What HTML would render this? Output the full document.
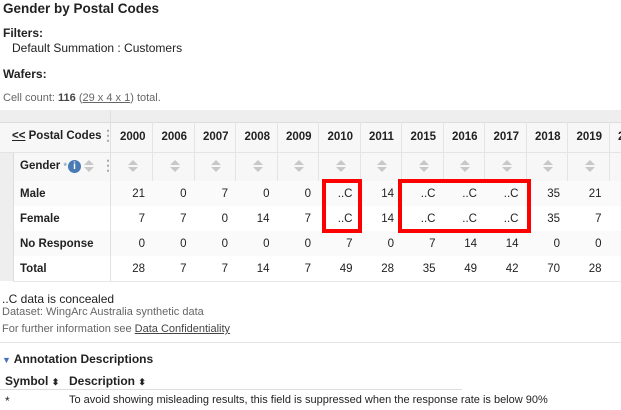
<!DOCTYPE html>
<html><head><style>
body{margin:0;width:621px;height:410px;overflow:hidden;background:#fff;font-family:"Liberation Sans",Arial,sans-serif;font-size:12px;color:#222;position:relative}
.a{position:absolute;white-space:nowrap}
.c{position:absolute;width:34px;text-align:right}
.b{font-weight:bold}
.t{font-size:11.5px}
.sort{position:absolute;width:0;height:0;border-left:5px solid transparent;border-right:5px solid transparent}
</style></head><body>
<div class="a b" style="left:3px;top:1px;font-size:13.5px">Gender by Postal Codes</div>
<div class="a b" style="left:3px;top:26px">Filters:</div>
<div class="a" style="left:12px;top:41px">Default Summation : Customers</div>
<div class="a b" style="left:3px;top:67px">Wafers:</div>
<div class="a" style="left:3px;top:92px;font-size:11px;color:#666">Cell count: <b style="color:#444">116</b> (<u>29 x 4 x 1</u>) total.</div>

<div class="a" style="left:0;top:110px;width:621px;height:12px;background:#eeeeee;border-bottom:1px solid #ddd"></div>
<div class="a" style="left:0;top:123px;width:621px;height:29px;background:#f7f7f7;border-bottom:1px solid #e4e4e4"></div>
<div class="a" style="left:0;top:153px;width:621px;height:28px;background:#f7f7f7;border-bottom:1px solid #e4e4e4"></div>
<div class="a" style="left:0;top:181px;width:621px;height:25px;background:#fafafa;border-bottom:1px solid #e8e8e8"></div>
<div class="a" style="left:0;top:206px;width:621px;height:25px;background:#fff;border-bottom:1px solid #e8e8e8"></div>
<div class="a" style="left:0;top:231px;width:621px;height:25px;background:#fafafa;border-bottom:1px solid #e8e8e8"></div>
<div class="a" style="left:13px;top:256px;width:608px;height:25px;background:#fff;border-bottom:1px solid #e8e8e8"></div>
<div class="a" style="left:0;top:153px;width:13px;height:128px;background:#eee;border-right:1px solid #ddd"></div>
<div class="a" style="left:110px;top:110px;width:1px;height:171px;background:#e0e0e0"></div>

<div class="a b t" style="left:12px;top:130px"><u>&lt;&lt;</u> Postal Codes</div>
<div class="a b" style="left:101px;top:127px;color:#aaa;font-size:14px">⋮</div>
<div class="a b t" style="left:20px;top:160px">Gender <span style="color:#8ac;font-size:9px">*</span></div>
<div class="a" style="left:68px;top:160px;width:13px;height:13px;border-radius:50%;background:#4a7ab5;color:#fff;font-size:10px;font-weight:bold;text-align:center;line-height:13px">i</div>
<div class="a b" style="left:101px;top:157px;color:#aaa;font-size:14px">⋮</div>

<div class="a b t" style="left:20px;top:188px">Male</div>
<div class="a b t" style="left:20px;top:213px">Female</div>
<div class="a b t" style="left:20px;top:238px">No Response</div>
<div class="a b t" style="left:20px;top:263px">Total</div>

<div id="cols"></div>
<script>
var years=["2000","2006","2007","2008","2009","2010","2011","2015","2016","2017","2018","2019","20"];
var data=[["21","0","7","0","0","..C","14","..C","..C","..C","35","21",""],
["7","7","0","14","7","..C","14","..C","..C","..C","35","7",""],
["0","0","0","0","0","7","0","7","14","14","0","0",""],
["28","7","7","14","7","49","28","35","49","42","70","28",""]];
var h="",tops=[188,213,238,263];
for(var i=0;i<13;i++){var x=111+i*41.5;
h+='<div class="a" style="left:'+(x+41)+'px;top:122px;width:1px;height:59px;background:#e4e4e4"></div>';
h+='<div class="a b t" style="left:'+(x+9)+'px;top:131px">'+years[i]+'</div>';
h+='<div class="sort" style="left:'+(x+17)+'px;top:160px;border-bottom:5px solid #c8c8c8"></div>';
h+='<div class="sort" style="left:'+(x+17)+'px;top:167px;border-top:5px solid #c8c8c8"></div>';
for(var r=0;r<4;r++)h+='<div class="c t" style="left:'+x+'px;top:'+tops[r]+'px">'+data[r][i]+'</div>';}
h+='<div class="sort" style="left:84px;top:160px;border-bottom:5px solid #c8c8c8"></div><div class="sort" style="left:84px;top:167px;border-top:5px solid #c8c8c8"></div>';
document.getElementById("cols").innerHTML=h;
</script>

<div class="a" style="left:322px;top:179px;width:32px;height:46px;border:4px solid #f00"></div>
<div class="a" style="left:398px;top:179px;width:125px;height:46px;border:4px solid #f00"></div>

<div class="a" style="left:2px;top:292px">..C data is concealed</div>
<div class="a" style="left:2px;top:306px;color:#666;font-size:11px">Dataset: WingArc Australia synthetic data</div>
<div class="a" style="left:2px;top:323px;color:#666;font-size:11px">For further information see <u style="color:#444">Data Confidentiality</u></div>
<div class="a" style="left:0;top:342px;width:621px;height:1px;background:#e4e4e4"></div>
<div class="a b" style="left:2px;top:352px"><span style="color:#4a6fc0;font-size:9px">▼</span> Annotation Descriptions</div>
<div class="a b" style="left:5px;top:374px">Symbol <span style="font-size:9px">⬍</span></div>
<div class="a b" style="left:69px;top:374px">Description <span style="font-size:9px">⬍</span></div>
<div class="a" style="left:0;top:389px;width:462px;height:1px;background:#ddd"></div>
<div class="a" style="left:5px;top:394px">*</div>
<div class="a" style="left:69px;top:394px;font-size:11px">To avoid showing misleading results, this field is suppressed when the response rate is below 90%</div>
</body></html>
